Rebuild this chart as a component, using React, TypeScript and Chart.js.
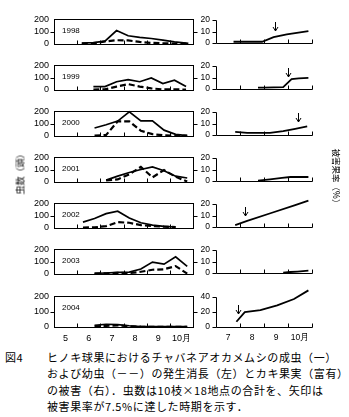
import React, { useEffect, useRef } from "react";
import { Chart, registerables } from "chart.js";

Chart.register(...registerables);

// ---- data (x = month as decimal: 5.0 = 1 May, 11.0 = end of Oct) ----
const years = ["1998", "1999", "2000", "2001", "2002", "2003", "2004"];

const adults1998 = [[6.2, 5], [6.7, 8], [7.2, 20], [7.7, 108], [8.2, 65], [8.7, 52], [9.2, 42], [9.7, 28], [10.2, 15], [10.8, 2]];
const larvae1998 = [[6.2, 0], [6.7, 2], [7.2, 18], [7.7, 28], [8.2, 26], [8.7, 14], [9.2, 6], [9.7, 2], [10.2, 0], [10.8, 0]];
const adults1999 = [[6.7, 25], [7.2, 25], [7.7, 65], [8.2, 82], [8.7, 65], [9.2, 96], [9.7, 50], [10.2, 78], [10.7, 25]];
const larvae1999 = [[6.7, 0], [7.2, 2], [7.7, 25], [8.2, 45], [8.7, 25], [9.2, 10], [9.7, 2], [10.2, 2], [10.7, 0]];
const adults2000 = [[6.75, 63], [7.25, 90], [7.75, 120], [8.25, 196], [8.75, 122], [9.25, 122], [9.75, 45], [10.25, 10], [10.75, 0]];
const larvae2000 = [[6.75, 0], [7.25, 5], [7.75, 118], [8.25, 118], [8.75, 40], [9.25, 12], [9.75, 2], [10.25, 0], [10.75, 0]];
const adults2001 = [[7.25, 12], [7.75, 45], [8.25, 75], [8.75, 100], [9.25, 122], [9.75, 90], [10.25, 45], [10.75, 30]];
const larvae2001 = [[7.25, 10], [7.75, 18], [8.25, 60], [8.75, 122], [9.25, 35], [9.75, 95], [10.25, 40], [10.75, 0]];
const adults2002 = [[6.25, 45], [6.75, 75], [7.25, 115], [7.75, 135], [8.25, 80], [8.75, 40], [9.25, 20], [9.75, 10], [10.25, 5]];
const larvae2002 = [[6.25, 0], [6.75, 2], [7.25, 12], [7.75, 45], [8.25, 40], [8.75, 20], [9.25, 12], [9.75, 8], [10.25, 5]];
const adults2003 = [[6.75, 2], [7.25, 5], [7.75, 10], [8.25, 12], [8.75, 38], [9.25, 95], [9.75, 78], [10.25, 138], [10.75, 60]];
const larvae2003 = [[6.75, 0], [7.25, 2], [7.75, 6], [8.25, 4], [8.75, 15], [9.25, 32], [9.75, 36], [10.25, 62], [10.75, 0]];
const adults2004 = [[6.75, 10], [7.25, 18], [7.75, 15], [8.25, 8], [8.75, 3], [9.25, 2], [9.75, 2], [10.25, 2], [10.75, 2]];
const larvae2004 = [[6.75, 2], [7.25, 8], [7.75, 10], [8.25, 5], [8.75, 2], [9.25, 1], [9.75, 1], [10.25, 1], [10.75, 1]];

const damage1998 = [[7.73, 1], [8.92, 1], [9.4, 5], [9.95, 7.4], [10.85, 10.4]];
const damage1999 = [[8.75, 1.2], [9.0, 1.2], [9.8, 1.6], [10.15, 8.5], [10.45, 9.2], [10.85, 9.6]];
const damage2000 = [[7.8, 2.6], [8.3, 1.7], [9.25, 1.7], [9.8, 3.3], [10.3, 5.3], [10.8, 7.4]];
const damage2001 = [[8.75, 0.3], [9.25, 1.4], [9.75, 2.6], [10.1, 3.4], [10.85, 3.4]];
const damage2002 = [[7.8, 1.5], [8.3, 5.2], [9.3, 12.2], [10.3, 19.1], [10.85, 23]];
const damage2003 = [[9.8, 0.2], [10.1, 0.8], [10.4, 1.2], [10.85, 2]];
const damage2004 = [[7.85, 7], [8.2, 20], [8.85, 22.5], [9.55, 29], [10.25, 37.5], [10.85, 49]];

// month when damage reached 7.5% (arrow), null = not reached
const arrowMonths = [9.44, 9.98, 10.4, null, 8.22, null, 7.9];

const leftMonthLabels = ["5", "6", "7", "8", "9", "10月"];
const leftMonthStarts = [5, 6, 7, 8, 9, 10];
const rightMonthLabels = ["7", "8", "9", "10月"];
const rightMonthStarts = [7, 8, 9, 10];
const leftYTicks = [0, 100, 200];
const rightYTicks = [0, 10, 20];
const rightYTicks2004 = [0, 20, 40];

const adultsByYear = [adults1998, adults1999, adults2000, adults2001, adults2002, adults2003, adults2004];
const larvaeByYear = [larvae1998, larvae1999, larvae2000, larvae2001, larvae2002, larvae2003, larvae2004];
const damageByYear = [damage1998, damage1999, damage2000, damage2001, damage2002, damage2003, damage2004];

// ---- layout ----
const PANEL_TOPS = [17, 63, 109, 155, 201, 247, 294];
const PANEL_H = 33;
const PAD_TOP = 8;
const FONT = '"Liberation Sans", Arial, sans-serif';

const toXY = (arr: number[][]) => arr.map(([x, y]) => ({ x, y }));

function interp(arr: number[][], m: number) {
  for (let i = 0; i < arr.length - 1; i++) {
    const [x0, y0] = arr[i];
    const [x1, y1] = arr[i + 1];
    if (m >= x0 && m <= x1) return y0 + ((y1 - y0) * (m - x0)) / (x1 - x0);
  }
  return arr[arr.length - 1][1];
}

const crisp = (v: number) => Math.round(v) + 0.5;

function leftConfig(i: number, last: boolean, bottomH: number): any {
  const yearLabel = years[i];
  const frame = {
    id: "leftFrame",
    afterDatasetsDraw(chart: any) {
      const { ctx, chartArea: a, scales } = chart;
      const x = scales.x;
      const y = scales.y;
      ctx.save();
      ctx.strokeStyle = "#000";
      ctx.lineWidth = 1;
      const L = crisp(a.left), R = crisp(a.right), T = crisp(a.top), B = crisp(a.bottom);
      ctx.strokeRect(L, T, R - L, B - T);
      ctx.beginPath();
      const py = crisp(y.getPixelForValue(leftYTicks[1]));
      ctx.moveTo(L - 4, py); ctx.lineTo(L, py);
      ctx.moveTo(R, py); ctx.lineTo(R + 4, py);
      leftMonthStarts.slice(1).forEach((m) => {
        const px = crisp(x.getPixelForValue(m));
        ctx.moveTo(px, B); ctx.lineTo(px, B - 4);
      });
      ctx.stroke();
      ctx.fillStyle = "#000";
      ctx.font = `8px ${FONT}`;
      ctx.textBaseline = "middle";
      ctx.textAlign = "left";
      ctx.fillText(yearLabel, a.left + 8, a.top + 11);
      ctx.restore();
    },
  };
  return {
    type: "line",
    data: {
      datasets: [
        { label: "成虫", data: toXY(adultsByYear[i]), borderColor: "#000", borderWidth: 1.7, pointRadius: 0, tension: 0, clip: false },
        { label: "幼虫", data: toXY(larvaeByYear[i]), borderColor: "#000", borderWidth: 2.2, borderDash: [6, 3], pointRadius: 0, tension: 0, clip: false },
      ],
    },
    options: {
      animation: false,
      responsive: false,
      devicePixelRatio: 1,
      layout: { padding: { top: PAD_TOP, right: 7, left: 0, bottom: 0 } },
      plugins: { legend: { display: false }, tooltip: { enabled: false } },
      scales: {
        x: {
          type: "linear",
          min: 5,
          max: 11,
          afterBuildTicks: (s: any) => {
            s.ticks = leftMonthStarts.map((m) => ({ value: m + 0.5 }));
          },
          afterFit: (s: any) => { s.height = bottomH; },
          ticks: {
            display: last,
            autoSkip: false,
            maxRotation: 0,
            padding: 6,
            color: "#000",
            font: { family: FONT, size: 9 },
            callback: (v: number) => leftMonthLabels[leftMonthStarts.indexOf(Math.floor(v))],
          },
          grid: { display: false, drawTicks: false },
          border: { display: false },
        },
        y: {
          min: 0,
          max: 200,
          afterBuildTicks: (s: any) => { s.ticks = leftYTicks.map((v) => ({ value: v })); },
          afterFit: (s: any) => { s.width = 54; },
          ticks: { padding: 5, color: "#000", font: { family: FONT, size: 9 } },
          grid: { display: false, drawTicks: false },
          border: { display: false },
        },
      },
    },
    plugins: [frame],
  };
}

function rightConfig(i: number, last: boolean, bottomH: number): any {
  const yTicks = last ? rightYTicks2004 : rightYTicks;
  const data = damageByYear[i];
  const am = arrowMonths[i];
  const frame = {
    id: "rightFrame",
    afterDatasetsDraw(chart: any) {
      const { ctx, chartArea: a, scales } = chart;
      const x = scales.x;
      const y = scales.y;
      ctx.save();
      ctx.strokeStyle = "#000";
      ctx.lineWidth = 1;
      const L = crisp(a.left), R = crisp(a.right), T = crisp(a.top), B = crisp(a.bottom);
      ctx.beginPath();
      ctx.moveTo(L, T); ctx.lineTo(L, B); ctx.lineTo(R, B);
      yTicks.forEach((v) => {
        const py = crisp(y.getPixelForValue(v));
        ctx.moveTo(L - 4, py); ctx.lineTo(L, py);
      });
      rightMonthStarts.slice(1).concat([11]).forEach((m) => {
        const px = crisp(x.getPixelForValue(m));
        ctx.moveTo(px, B); ctx.lineTo(px, B - 4);
      });
      ctx.stroke();
      if (am !== null && am !== undefined) {
        const px = crisp(x.getPixelForValue(am));
        const tip = Math.round(y.getPixelForValue(interp(data, am))) - 6;
        ctx.beginPath();
        ctx.moveTo(px, tip - 9); ctx.lineTo(px, tip);
        ctx.moveTo(px - 2.5, tip - 4); ctx.lineTo(px, tip); ctx.lineTo(px + 2.5, tip - 4);
        ctx.stroke();
      }
      ctx.restore();
    },
  };
  return {
    type: "line",
    data: {
      datasets: [
        { label: "被害果率", data: toXY(data), borderColor: "#000", borderWidth: 1.8, pointRadius: 0, tension: 0, clip: false },
      ],
    },
    options: {
      animation: false,
      responsive: false,
      devicePixelRatio: 1,
      layout: { padding: { top: PAD_TOP, right: 8, left: 0, bottom: 0 } },
      plugins: { legend: { display: false }, tooltip: { enabled: false } },
      scales: {
        x: {
          type: "linear",
          min: 7,
          max: 11,
          afterBuildTicks: (s: any) => {
            s.ticks = rightMonthStarts.map((m) => ({ value: m + 0.5 }));
          },
          afterFit: (s: any) => { s.height = bottomH; },
          ticks: {
            display: last,
            autoSkip: false,
            maxRotation: 0,
            padding: 6,
            color: "#000",
            font: { family: FONT, size: 8.5 },
            callback: (v: number) => rightMonthLabels[rightMonthStarts.indexOf(Math.floor(v))],
          },
          grid: { display: false, drawTicks: false },
          border: { display: false },
        },
        y: {
          min: 0,
          max: yTicks[2],
          afterBuildTicks: (s: any) => { s.ticks = yTicks.map((v) => ({ value: v })); },
          afterFit: (s: any) => { s.width = 36; },
          ticks: { padding: 6, color: "#000", font: { family: FONT, size: 8.5 } },
          grid: { display: false, drawTicks: false },
          border: { display: false },
        },
      },
    },
    plugins: [frame],
  };
}

function ChartCanvas({ make, left, top, width, height }: any) {
  const ref = useRef<HTMLCanvasElement>(null);
  useEffect(() => {
    const chart = new Chart(ref.current as HTMLCanvasElement, make());
    return () => chart.destroy();
  }, []);
  return (
    <canvas
      ref={ref}
      width={width}
      height={height}
      style={{ position: "absolute", left, top, width, height }}
    />
  );
}

const captionLines = [
  "ヒノキ球果におけるチャバネアオカメムシの成虫（一）",
  "および幼虫（－－）の発生消長（左）とカキ果実（富有）",
  "の被害（右）．虫数は10枝×18地点の合計を、矢印は",
  "被害果率が7.5%に達した時期を示す．",
];

export default function App() {
  const cjk = '"Noto Sans CJK JP", "Noto Sans", sans-serif';
  return (
    <div style={{ position: "absolute", left: 0, top: 0, width: 349, height: 417, background: "#fff", overflow: "hidden" }}>
      {years.map((yr, i) => {
        const last = i === years.length - 1;
        const bottomH = last ? 18 : 4;
        const h = PAD_TOP + PANEL_H + bottomH;
        return (
          <React.Fragment key={yr}>
            <ChartCanvas make={() => leftConfig(i, last, bottomH)} left={0} top={PANEL_TOPS[i] - PAD_TOP} width={200} height={h} />
            <ChartCanvas make={() => rightConfig(i, last, bottomH)} left={180} top={PANEL_TOPS[i] - PAD_TOP} width={140} height={h} />
          </React.Fragment>
        );
      })}
      <div
        style={{
          position: "absolute", left: 20, top: 172, transform: "translate(-50%, -50%) rotate(-90deg)",
          fontFamily: cjk, fontSize: 9, whiteSpace: "nowrap", color: "#000",
        }}
      >
        虫数（頭）
      </div>
      <div
        style={{
          position: "absolute", left: 337, top: 178, transform: "translate(-50%, -50%) rotate(90deg)",
          fontFamily: cjk, fontSize: 8.5, whiteSpace: "nowrap", color: "#000",
        }}
      >
        被害果率（%）
      </div>
      <div
        style={{
          position: "absolute", left: 5, top: 349, fontFamily: cjk, fontSize: 11, lineHeight: "16.3px",
          letterSpacing: "0.6px", whiteSpace: "nowrap", color: "#000",
        }}
      >
        <div>
          <span style={{ display: "inline-block", width: 42 }}>図4</span>
          <span>{captionLines[0]}</span>
        </div>
        {captionLines.slice(1).map((t) => (
          <div key={t} style={{ paddingLeft: 42 }}>{t}</div>
        ))}
      </div>
    </div>
  );
}
